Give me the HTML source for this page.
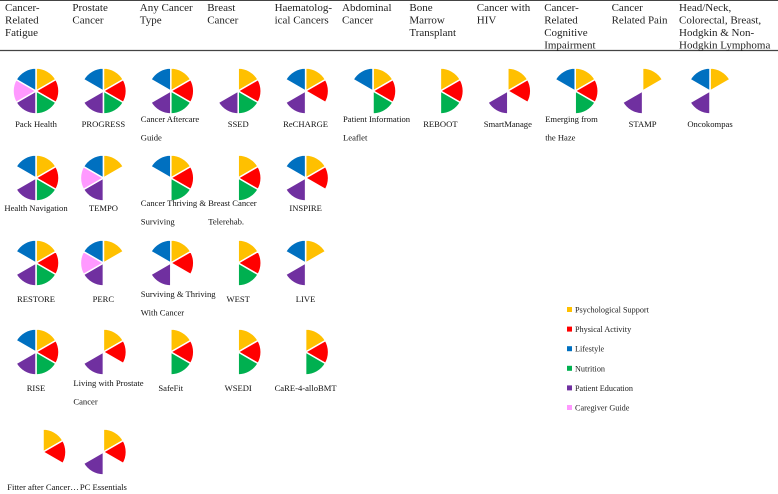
<!DOCTYPE html>
<html><head><meta charset="utf-8"><style>
html,body{margin:0;padding:0;background:#fff;}
svg{display:block;font-family:"Liberation Serif",serif;}
</style></head><body>
<svg id="c" width="778" height="494" viewBox="0 0 778 494">
<line x1="0" y1="0.5" x2="778" y2="0.5" stroke="#444" stroke-width="1"/>
<line x1="0" y1="50.5" x2="778" y2="50.5" stroke="#444" stroke-width="1.2"/>
<g id="hdr"></g><g id="pies"></g><g id="leg"></g>
</svg>
<script>
const categories=[["Cancer-","Related","Fatigue"],["Prostate","Cancer"],["Any Cancer","Type"],["Breast","Cancer"],["Haematolog-","ical Cancers"],["Abdominal","Cancer"],["Bone","Marrow","Transplant"],["Cancer with","HIV"],["Cancer-","Related","Cognitive","Impairment"],["Cancer","Related Pain"],["Head/Neck,","Colorectal, Breast,","Hodgkin & Non-","Hodgkin Lymphoma"]];
const seriesNames=["Psychological Support","Physical Activity","Nutrition","Patient Education","Caregiver Guide","Lifestyle"];
const seriesKeys=["Y","R","G","P","K","B"];
const legendOrder=["Y","R","B","G","P","K"];
const columns=[
[[["Pack Health"],"YRGPKB"],[["Health Navigation"],"YRGPB"],[["RESTORE"],"YRGPB"],[["RISE"],"YRGPB"],[["Fitter after Cancer…"],"YR"]],
[[["PROGRESS"],"YRGPB"],[["TEMPO"],"YPKB"],[["PERC"],"YPKB"],[["Living with Prostate","Cancer"],"YRP"],[["PC Essentials"],"YRP"]],
[[["Cancer Aftercare","Guide"],"YRGPB"],[["Cancer Thriving &","Surviving"],"YRGB"],[["Surviving & Thriving","With Cancer"],"YRPB"],[["SafeFit"],"YRG"]],
[[["SSED"],"YRGP"],[["Breast Cancer","Telerehab."],"YRG"],[["WEST"],"YRG"],[["WSEDI"],"YRG"]],
[[["ReCHARGE"],"YRPB"],[["INSPIRE"],"YRPB"],[["LIVE"],"YPB"],[["CaRE-4-alloBMT"],"YRG"]],
[[["Patient Information","Leaflet"],"YRGB"]],
[[["REBOOT"],"YRG"]],
[[["SmartManage"],"YRP"]],
[[["Emerging from","the Haze"],"YRGB"]],
[[["STAMP"],"YP"]],
[[["Oncokompas"],"YPB"]]];
const colors={Y:"#FFC000",R:"#FF0000",G:"#00B050",P:"#7030A0",K:"#FF99FF",B:"#0070C0"};
const NS="http://www.w3.org/2000/svg";
const colX=i=>36+i*67.4;
const rowY=[91,178,263,352,452];
const labY=[127,211,302,391,490];
const R=23;
function mk(t,a,p){const e=document.createElementNS(NS,t);for(const k in a)e.setAttribute(k,a[k]);p.appendChild(e);return e;}
const hdr=document.getElementById('hdr');
categories.forEach((lines,i)=>{
  const t=mk('text',{x:colX(i)-31,y:11,'font-size':'11',fill:'#222'},hdr);
  
  
  lines.forEach((l,j)=>{const s=mk('tspan',{x:colX(i)-31,y:11+j*12.5},t);s.textContent=l;});
});
const pies=document.getElementById('pies');
function sector(cx,cy,k,g){
  const idx=seriesKeys.indexOf(k);
  const a0=(idx*60-90)*Math.PI/180,a1=((idx+1)*60-90)*Math.PI/180;
  const d=`M${cx},${cy}L${cx+R*Math.cos(a0)},${cy+R*Math.sin(a0)}A${R},${R} 0 0 1 ${cx+R*Math.cos(a1)},${cy+R*Math.sin(a1)}Z`;
  const p=mk('path',{d:d,fill:colors[k],stroke:'#fff','stroke-width':'1.5'},g);
  
  
}
columns.forEach((col,i)=>{
  col.forEach((item,r)=>{
    let cx=colX(i); if(i===0&&r===4) cx=43;
    const g=mk('g',{},pies);
    
    
    item[1].split('').forEach(k=>sector(cx,rowY[r],k,g));
    const lines=item[0];
    const t=mk('text',{'font-size':'8.6',fill:'#111'},g);
    
    
    if(lines.length===1){t.setAttribute('x',cx);t.setAttribute('y',labY[r]);t.setAttribute('text-anchor','middle');t.textContent=lines[0];}
    else{lines.forEach((l,j)=>{const s=mk('tspan',{x:colX(i)-30,y:labY[r]-5+j*18.5},t);s.textContent=l;});}
  });
});
const leg=document.getElementById('leg');
legendOrder.forEach((k,j)=>{
  const idx=seriesKeys.indexOf(k);
  const g=mk('g',{},leg);
  
  
  const y=310+j*19.6;
  mk('rect',{x:567,y:y-3,width:5,height:5,fill:colors[k]},g);
  const t=mk('text',{x:575,y:y+2.5,'font-size':'8.2',fill:'#222'},g);t.textContent=seriesNames[idx];
});
</script>
</body></html>
